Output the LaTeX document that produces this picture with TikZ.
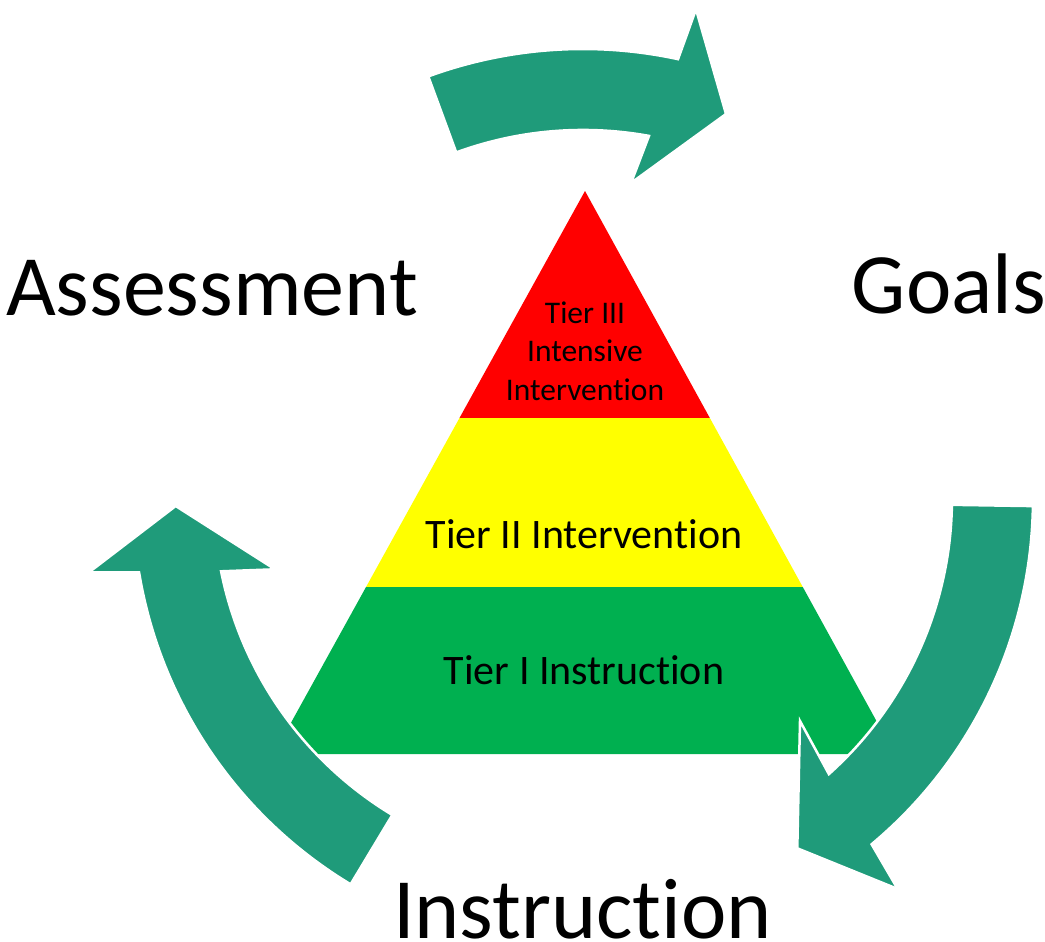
\documentclass[tikz,border=0pt]{standalone}
\usepackage{fontspec}
\setmainfont{Carlito}[Ligatures={NoCommon,NoRequired,NoContextual}]
\definecolor{arrowteal}{RGB}{31,155,122}
\definecolor{pyrred}{RGB}{255,0,0}
\definecolor{pyryellow}{RGB}{255,255,0}
\definecolor{pyrgreen}{RGB}{0,176,80}
\tikzset{
  biglabel/.style={font=\fontsize{86}{100}\selectfont, inner sep=0pt, anchor=base, text=black},
  tierlabel/.style={font=\fontsize{42}{50}\selectfont, inner sep=0pt, anchor=base, text=black},
  smalltier/.style={font=\fontsize{31.5}{38}\selectfont, inner sep=0pt, anchor=base, text=black},
  cyclearrow/.style={fill=arrowteal, draw=white, line width=2.5pt, line join=miter}
}
\begin{document}
\begin{tikzpicture}[x=1pt,y=1pt]
\useasboundingbox (0,0) rectangle (1045,-942);
% pyramid
\begin{scope}
  \clip (585,-191) -- (273.7,-754) -- (894.6,-754) -- cycle;
  \fill[pyrred] (250,-150) rectangle (920,-418.3);
  \fill[pyryellow] (250,-418.3) rectangle (920,-587);
  \fill[pyrgreen] (250,-587) rectangle (920,-760);
\end{scope}
% tier texts
\node[smalltier] (t3a) at (585,-323.3) {Tier III};
\node[smalltier] (t3b) at (585,-361.7) {Intensive};
\node[smalltier] (t3c) at (585,-400) {Intervention};
\node[tierlabel] (t2) at (584,-548.3) {Tier II Intervention};
\node[tierlabel] (t1) at (584,-684.3) {Tier I Instruction};
% big labels
\node[biglabel] (assess) at (212,-315) {Assessment};
\node[biglabel] (goals) at (949,-313) {Goals};
\node[biglabel] (instr) at (582.5,-938.5) {Instruction};
% cycle arrows (circle centre (583,-499))
\coordinate (cc) at (583,-499);
% top arrow: Assessment -> Goals
\path[cyclearrow] (428.3,-76.4) arc[start angle=110.1, end angle=77.8, radius=450]
  -- (696,-9.3) -- (726,-114) -- (631,-183) -- (649,-135.9)
  arc[start angle=79.7, end angle=110.1, radius=369] -- cycle;
% right arrow: Goals -> Instruction
\path[cyclearrow] (1032.9,-506.1) arc[start angle=-0.9, end angle=-50.1, radius=450]
  -- (897.7,-889) -- (797.3,-848.3) -- (800,-721) -- (828.9,-774.1)
  arc[start angle=-48.2, end angle=-0.9, radius=369] -- cycle;
% left arrow: Instruction -> Assessment
\path[cyclearrow] (350.6,-884.3) arc[start angle=238.9, end angle=189.4, radius=450]
  -- (89,-572.3) -- (175.7,-506) -- (275,-569.3) -- (221.1,-571.3)
  arc[start angle=191.3, end angle=238.9, radius=369] -- cycle;
\end{tikzpicture}
\end{document}
